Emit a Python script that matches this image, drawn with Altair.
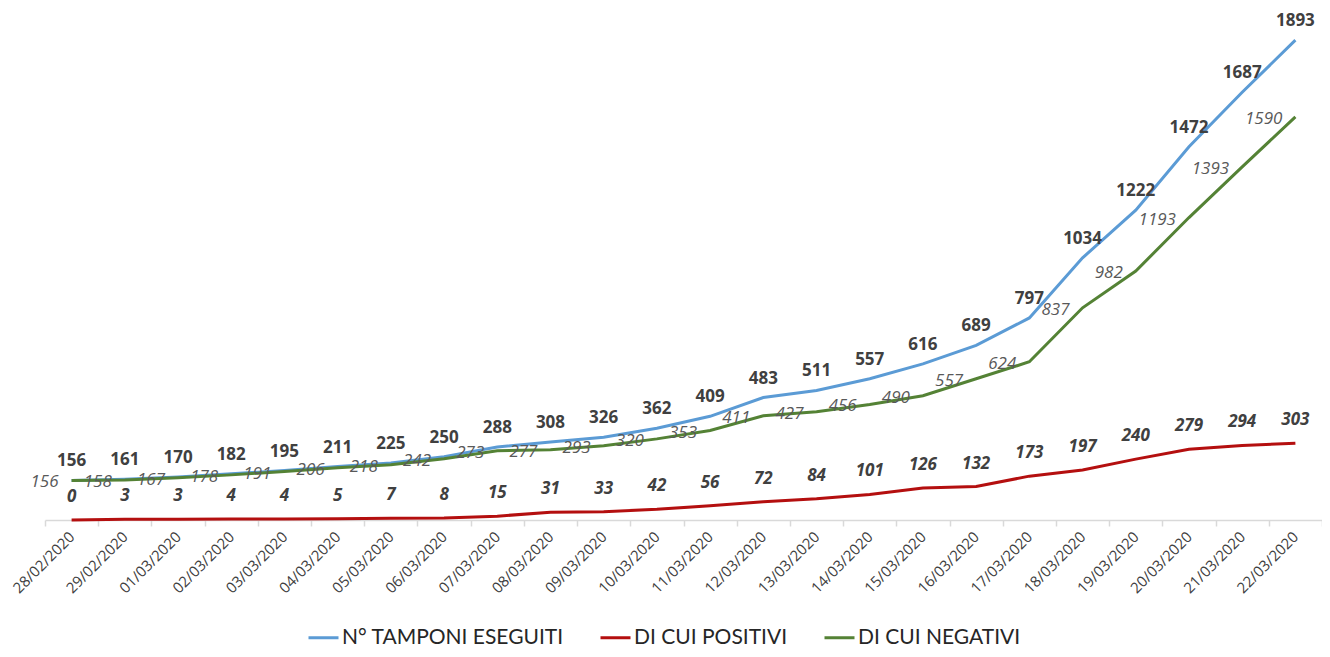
import altair as alt
import pandas as pd

dates = ["28/02/2020", "29/02/2020", "01/03/2020", "02/03/2020", "03/03/2020", "04/03/2020",
         "05/03/2020", "06/03/2020", "07/03/2020", "08/03/2020", "09/03/2020", "10/03/2020",
         "11/03/2020", "12/03/2020", "13/03/2020", "14/03/2020", "15/03/2020", "16/03/2020",
         "17/03/2020", "18/03/2020", "19/03/2020", "20/03/2020", "21/03/2020", "22/03/2020"]
tamponi = [156, 161, 170, 182, 195, 211, 225, 250, 288, 308, 326, 362, 409, 483, 511, 557,
           616, 689, 797, 1034, 1222, 1472, 1687, 1893]
positivi = [0, 3, 3, 4, 4, 5, 7, 8, 15, 31, 33, 42, 56, 72, 84, 101, 126, 132, 173, 197,
            240, 279, 294, 303]
negativi = [156, 158, 167, 178, 191, 206, 218, 242, 273, 277, 293, 320, 353, 411, 427, 456,
            490, 557, 624, 837, 982, 1193, 1393, 1590]

series_names = ["N° TAMPONI ESEGUITI", "DI CUI POSITIVI", "DI CUI NEGATIVI"]
series_colors = ["#5B9BD5", "#B40F0F", "#548235"]

rows = []
for name, vals in zip(series_names, [tamponi, positivi, negativi]):
    for d, v in zip(dates, vals):
        rows.append({"date": d, "series": name, "value": v})
df = pd.DataFrame(rows)

FONT = "Open Sans"

x_enc = alt.X("date:N", sort=dates,
              scale=alt.Scale(type="band", paddingInner=0, paddingOuter=0),
              axis=alt.Axis(title=None, labelAngle=-45, labelAlign="right", labelBaseline="middle",
                            labelFont=FONT, labelFontSize=15, labelColor="#404040",
                            labelPadding=8, tickBand="extent", tickSize=6,
                            tickColor="#D9D9D9", domainColor="#D9D9D9", domainWidth=1.5,
                            tickWidth=1.5, grid=False, labelOverlap=False))
y_enc = alt.Y("value:Q", scale=alt.Scale(domain=[0, 1988], nice=False), axis=None)

base = alt.Chart(df)

lines = base.mark_line(strokeWidth=3).encode(
    x=x_enc, y=y_enc,
    color=alt.Color("series:N",
                    scale=alt.Scale(domain=series_names, range=series_colors),
                    sort=series_names,
                    legend=alt.Legend(title=None, orient="none", direction="horizontal",
                                      legendX=262, legendY=605, symbolType="stroke",
                                      symbolSize=900, symbolStrokeWidth=3, labelFont="Lato",
                                      labelFontSize=21, labelColor="#262626", labelOffset=2,
                                      columnPadding=30, labelLimit=400)),
)

t_tamp = base.transform_filter(alt.datum.series == series_names[0]).mark_text(
    dy=-19, font=FONT, fontSize=17, fontWeight="bold", color="#404040"
).encode(x=x_enc, y=y_enc, text="value:Q")

t_pos = base.transform_filter(alt.datum.series == series_names[1]).mark_text(
    dy=-23, font=FONT, fontSize=17, fontWeight="bold", fontStyle="italic", color="#404040"
).encode(x=x_enc, y=y_enc, text="value:Q")

t_neg = base.transform_filter(alt.datum.series == series_names[2]).mark_text(
    dx=-13, dy=2, align="right", font=FONT, fontSize=17, fontStyle="italic", color="#595959"
).encode(x=x_enc, y=y_enc, text="value:Q")

chart = alt.layer(lines, t_tamp, t_pos, t_neg).properties(
    width=1277, height=504,
    padding={"left": 37, "top": 8, "right": 0, "bottom": 127},
    autosize=alt.AutoSizeParams(type="none"),
    background="white",
).configure_view(stroke=None)

chart.save("out.html", embed_options={"renderer": "svg", "actions": False})
